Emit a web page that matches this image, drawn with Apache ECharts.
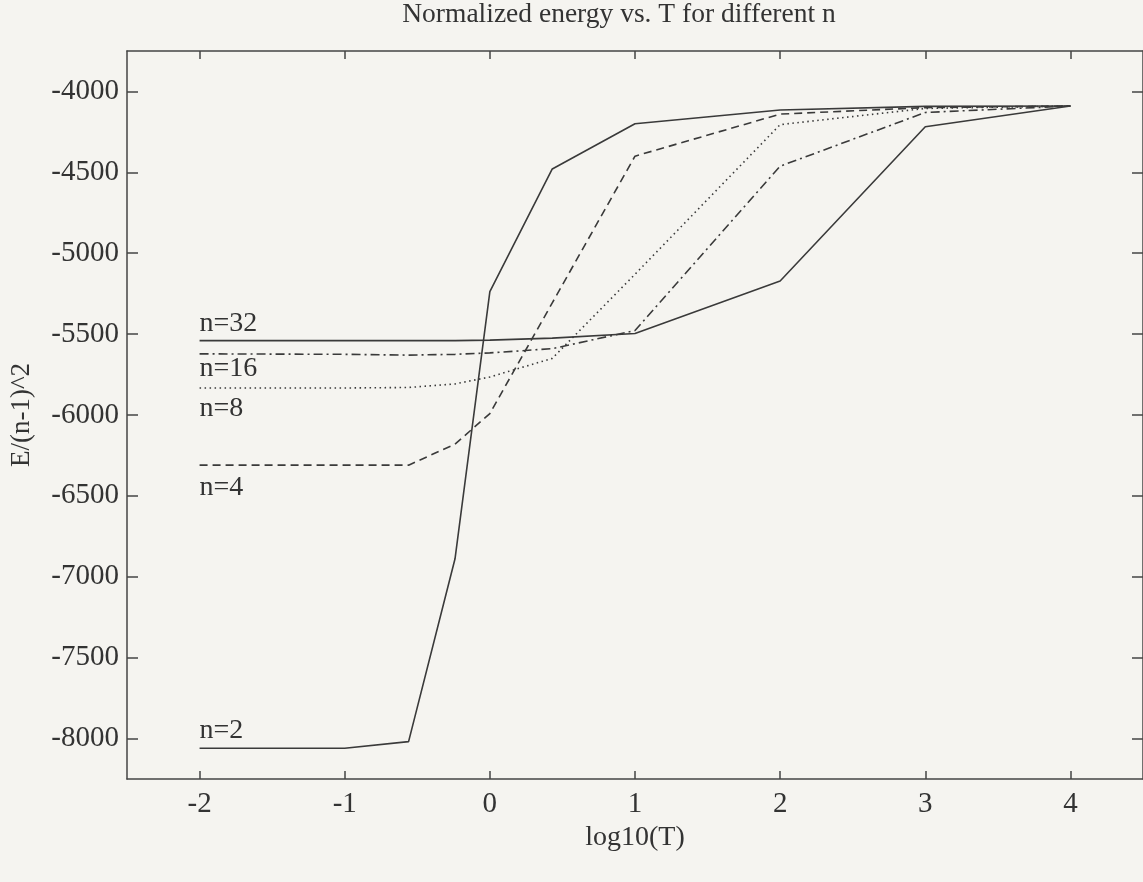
<!DOCTYPE html>
<html>
<head>
<meta charset="utf-8">
<script src="https://cdn.jsdelivr.net/npm/echarts@6/dist/echarts.min.js"></script>
<style>
html,body{margin:0;padding:0;background:#f5f4f0;}
#c{width:1143px;height:882px;}
</style>
</head>
<body>
<div id="c"></div>
<script>
// ---- data ----
const xValues = [-2, -1, -0.56, -0.24, 0, 0.43, 1, 2, 3, 4];
const n2  = [-8060, -8060, -8019, -6889, -5238, -4479, -4200, -4115, -4092, -4090];
const n4  = [-6310, -6310, -6310, -6180, -5991, -5307, -4400, -4140, -4100, -4090];
const n8  = [-5833, -5833, -5830, -5808, -5765, -5650, -5130, -4205, -4105, -4090];
const n16 = [-5622, -5625, -5630, -5625, -5616, -5590, -5478, -4462, -4130, -4090];
const n32 = [-5540, -5540, -5540, -5540, -5537, -5525, -5496, -5172, -4218, -4090];
const seriesNames = ['n=2', 'n=4', 'n=8', 'n=16', 'n=32'];
const xTicks = [-2, -1, 0, 1, 2, 3, 4];
const yTicks = [-8000, -7500, -7000, -6500, -6000, -5500, -5000, -4500, -4000];

// ---- styles ----
const FONT = "'Liberation Serif', 'Times New Roman', serif";
const INK = '#333';
const LINE = '#3a3a3a';
const styles = [
  { type: 'solid', labelPos: [0, -4], vAlign: 'bottom' },
  { type: [8, 5], labelPos: [0, 8], vAlign: 'top' },
  { type: [1.5, 3.5], labelPos: [0, 7], vAlign: 'top' },
  { type: [9, 4, 2, 4], labelPos: [0, 1], vAlign: 'top' },
  { type: 'solid', labelPos: [0, -3], vAlign: 'bottom' }
];
const allSeries = [n2, n4, n8, n16, n32];

const axisLineStyle = { color: '#444', width: 1.5 };
function xAx(pos, showLabel) {
  return {
    type: 'value', min: -2.5, max: 4.5, position: pos,
    axisLine: { show: true, onZero: false, lineStyle: axisLineStyle },
    axisTick: { show: true, inside: true, length: 8, customValues: xTicks, lineStyle: axisLineStyle },
    axisLabel: { show: showLabel, customValues: xTicks, formatter: v => String(v), fontFamily: FONT, fontSize: 29, color: INK, margin: 11 },
    splitLine: { show: false },
    name: showLabel ? 'log10(T)' : '', nameLocation: 'middle', nameGap: 44,
    nameTextStyle: { fontFamily: FONT, fontSize: 28, color: INK }
  };
}
function yAx(pos, showLabel) {
  return {
    type: 'value', min: -8250, max: -3750, position: pos,
    axisLine: { show: true, onZero: false, lineStyle: axisLineStyle },
    axisTick: { show: true, inside: true, length: 11, customValues: yTicks, lineStyle: axisLineStyle },
    axisLabel: { show: showLabel, customValues: yTicks, formatter: v => String(v), fontFamily: FONT, fontSize: 29, color: INK, margin: 8 },
    splitLine: { show: false },
    name: showLabel ? 'E/(n-1)^2' : '', nameLocation: 'middle', nameGap: 92,
    nameTextStyle: { fontFamily: FONT, fontSize: 27, color: INK }
  };
}

const series = allSeries.map((vals, i) => ({
  type: 'line',
  name: seriesNames[i],
  xAxisIndex: 0, yAxisIndex: 0,
  data: xValues.map((x, k) => [x, vals[k]]),
  showSymbol: false, symbol: 'none',
  lineStyle: { color: LINE, width: 1.6, type: styles[i].type },
  silent: true,
  markPoint: {
    symbol: 'circle', symbolSize: 0,
    data: [{ coord: [xValues[0], vals[0]] }],
    label: {
      show: true, formatter: seriesNames[i],
      position: styles[i].labelPos, align: 'left', verticalAlign: styles[i].vAlign,
      fontFamily: FONT, fontSize: 28, color: INK
    }
  }
}));

const chart = echarts.init(document.getElementById('c'), null, { renderer: 'canvas' });
chart.setOption({
  backgroundColor: '#f5f4f0',
  animation: false,
  title: {
    text: 'Normalized energy vs. T for different n',
    left: 614, top: -4, textAlign: 'center',
    textStyle: { fontFamily: FONT, fontSize: 27.5, fontWeight: 'normal', color: INK }
  },
  grid: { left: 126, top: 51, width: 1021, height: 728 },
  xAxis: [xAx('bottom', true), xAx('top', false)],
  yAxis: [yAx('left', true), yAx('right', false)],
  series: series
});
</script>
</body>
</html>
